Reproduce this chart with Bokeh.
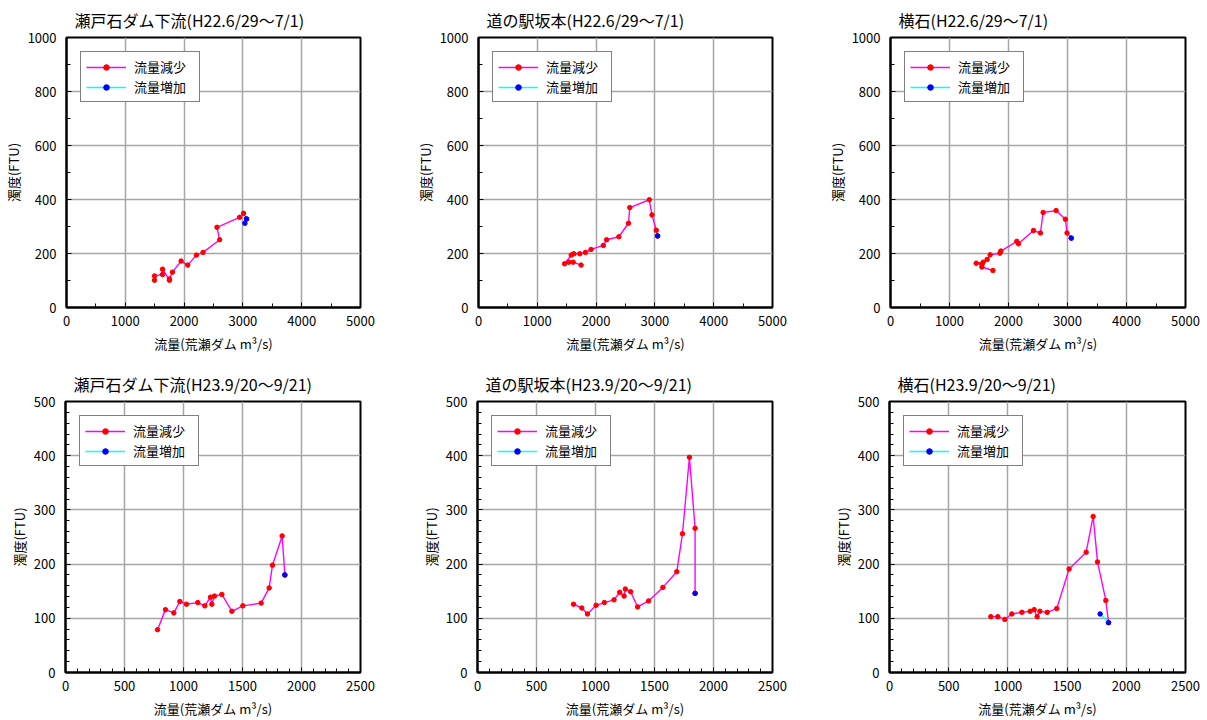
from bokeh.plotting import figure
from bokeh.models import FixedTicker, Legend, LegendItem, Range1d
from bokeh.layouts import column, row
from bokeh.embed import file_html
from bokeh.resources import INLINE

FONT = "Noto Sans CJK JP"

# ---- data (flow m3/s, turbidity FTU) ----
titles = [
    "瀬戸石ダム下流(H22.6/29～7/1)",
    "道の駅坂本(H22.6/29～7/1)",
    "横石(H22.6/29～7/1)",
    "瀬戸石ダム下流(H23.9/20～9/21)",
    "道の駅坂本(H23.9/20～9/21)",
    "横石(H23.9/20～9/21)",
]
legend_labels = ["流量減少", "流量増加"]
x_label = "流量(荒瀬ダム m³/s)"
y_label = "濁度(FTU)"

# H22 瀬戸石ダム下流
seto22_dec_x = [3062, 3011, 2944, 2559, 2605, 2322, 2209, 2062, 1949, 1802, 1751, 1751, 1633, 1633, 1497, 1497]
seto22_dec_y = [328, 349, 334, 297, 251, 204, 194, 157, 172, 131, 106, 101, 142, 122, 117, 101]
seto22_inc_x = [3034, 3062]
seto22_inc_y = [312, 328]

# H22 道の駅坂本
saka22_dec_x = [3046, 3024, 2950, 2905, 2573, 2551, 2387, 2179, 2123, 1914, 1819, 1723, 1622, 1577, 1464, 1537, 1610, 1745]
saka22_dec_y = [265, 286, 343, 399, 370, 312, 262, 251, 230, 215, 204, 199, 199, 194, 162, 168, 168, 157]
saka22_inc_x = [3046]
saka22_inc_y = [265]

# H22 横石
yoko22_dec_x = [3064, 2992, 2964, 2807, 2587, 2541, 2423, 2169, 2141, 1871, 1854, 1689, 1638, 1571, 1453, 1549, 1549, 1736]
yoko22_dec_y = [257, 276, 327, 359, 352, 276, 285, 236, 245, 209, 201, 195, 178, 168, 164, 160, 150, 137]
yoko22_inc_x = [3064]
yoko22_inc_y = [257]

# H23 瀬戸石ダム下流
seto23_dec_x = [1859, 1836, 1754, 1726, 1658, 1503, 1410, 1325, 1263, 1240, 1229, 1181, 1121, 1025, 969, 918, 847, 780]
seto23_dec_y = [180, 252, 198, 156, 128, 123, 113, 144, 141, 126, 139, 123, 129, 126, 131, 110, 116, 79]
seto23_inc_x = [1859]
seto23_inc_y = [180]

# H23 道の駅坂本
saka23_dec_x = [1844, 1844, 1796, 1737, 1689, 1571, 1450, 1357, 1298, 1253, 1242, 1205, 1157, 1075, 1005, 932, 884, 814]
saka23_dec_y = [146, 266, 397, 256, 186, 157, 132, 121, 149, 154, 141, 148, 134, 129, 124, 108, 119, 126]
saka23_inc_x = [1844]
saka23_inc_y = [146]

# H23 横石
yoko23_dec_x = [1850, 1827, 1757, 1720, 1661, 1517, 1413, 1332, 1270, 1247, 1222, 1188, 1118, 1033, 974, 915, 856]
yoko23_dec_y = [92, 133, 204, 288, 222, 191, 118, 111, 113, 103, 116, 113, 111, 108, 98, 103, 103]
yoko23_inc_x = [1779, 1850]
yoko23_inc_y = [108, 92]

# axis settings per row: (xmax, xmajor, xminor, ymax, ymajor, yminor)
row1_axes = (5000, 1000, 500, 1000, 200, 100)
row2_axes = (2500, 500, 100, 500, 100, 20)


def make_panel(title, dec_x, dec_y, inc_x, inc_y, axes, width, height, right, bottom):
    xmax, xmaj, xmin_, ymax, ymaj, ymin_ = axes
    p = figure(width=width, height=height,
               x_range=Range1d(0, xmax), y_range=Range1d(0, ymax),
               output_backend="svg", toolbar_location=None,
               min_border_left=65, min_border_right=right,
               min_border_top=36, min_border_bottom=bottom)
    p.background_fill_color = "white"
    p.border_fill_color = "white"
    p.outline_line_color = "black"
    p.outline_line_width = 2

    p.title.text = title
    p.title.text_font = FONT
    p.title.text_font_size = "16px"
    p.title.text_font_style = "normal"
    p.title.text_color = "black"
    p.title.align = "left"
    p.title.offset = 8
    p.title.standoff = 11

    p.xaxis.ticker = FixedTicker(ticks=list(range(0, xmax + 1, xmaj)),
                                 minor_ticks=list(range(0, xmax + 1, xmin_)))
    p.yaxis.ticker = FixedTicker(ticks=list(range(0, ymax + 1, ymaj)),
                                 minor_ticks=list(range(0, ymax + 1, ymin_)))
    for ax in (p.xaxis[0], p.yaxis[0]):
        ax.major_tick_in = 5
        ax.major_tick_out = 0
        ax.minor_tick_in = 4
        ax.minor_tick_out = 0
        ax.axis_line_color = "black"
        ax.axis_line_width = 2
        ax.major_tick_line_color = "black"
        ax.minor_tick_line_color = "black"
        ax.major_label_text_font = FONT
        ax.major_label_text_font_size = "13px"
        ax.major_label_text_color = "black"
        ax.axis_label_text_font = FONT
        ax.axis_label_text_font_size = "13px"
        ax.axis_label_text_font_style = "normal"
        ax.axis_label_text_color = "black"
    p.xaxis.axis_label = x_label
    p.yaxis.axis_label = y_label
    p.xaxis.major_label_standoff = 8
    p.xaxis.axis_label_standoff = 5
    p.yaxis.major_label_standoff = 10
    p.yaxis.axis_label_standoff = 2

    p.grid.grid_line_color = "#A6A6A6"
    p.grid.grid_line_width = 1.5

    l1 = p.line(dec_x, dec_y, line_color="#FF00FF", line_width=1.4)
    s1 = p.scatter(dec_x, dec_y, size=4.5, fill_color="#FF0000", line_color="#FF0000")
    l2 = p.line(inc_x, inc_y, line_color="#00FFFF", line_width=1.4)
    s2 = p.scatter(inc_x, inc_y, size=4.5, fill_color="#0000FF", line_color="#0000FF")

    legend = Legend(items=[LegendItem(label=legend_labels[0], renderers=[l1, s1]),
                           LegendItem(label=legend_labels[1], renderers=[l2, s2])],
                    location="top_left")
    legend.margin = 14
    legend.padding = 5
    legend.spacing = 1
    legend.glyph_width = 40
    legend.glyph_height = 14
    legend.label_height = 14
    legend.label_width = 60
    legend.label_standoff = 8
    legend.label_text_font = FONT
    legend.label_text_font_size = "13px"
    legend.label_text_line_height = 1.0
    legend.label_text_color = "black"
    legend.border_line_color = "black"
    legend.border_line_width = 1.5
    legend.background_fill_color = "white"
    legend.background_fill_alpha = 1
    p.add_layout(legend)
    return p


W = [412, 412, 380]
R = [52, 52, 19]
H = [364, 356]
B = [57, 48]

p1 = make_panel(titles[0], seto22_dec_x, seto22_dec_y, seto22_inc_x, seto22_inc_y, row1_axes, W[0], H[0], R[0], B[0])
p2 = make_panel(titles[1], saka22_dec_x, saka22_dec_y, saka22_inc_x, saka22_inc_y, row1_axes, W[1], H[0], R[1], B[0])
p3 = make_panel(titles[2], yoko22_dec_x, yoko22_dec_y, yoko22_inc_x, yoko22_inc_y, row1_axes, W[2], H[0], R[2], B[0])
p4 = make_panel(titles[3], seto23_dec_x, seto23_dec_y, seto23_inc_x, seto23_inc_y, row2_axes, W[0], H[1], R[0], B[1])
p5 = make_panel(titles[4], saka23_dec_x, saka23_dec_y, saka23_inc_x, saka23_inc_y, row2_axes, W[1], H[1], R[1], B[1])
p6 = make_panel(titles[5], yoko23_dec_x, yoko23_dec_y, yoko23_inc_x, yoko23_inc_y, row2_axes, W[2], H[1], R[2], B[1])

layout = column(row(p1, p2, p3), row(p4, p5, p6))

with open("out.html", "w") as f:
    f.write(file_html(layout, INLINE))
